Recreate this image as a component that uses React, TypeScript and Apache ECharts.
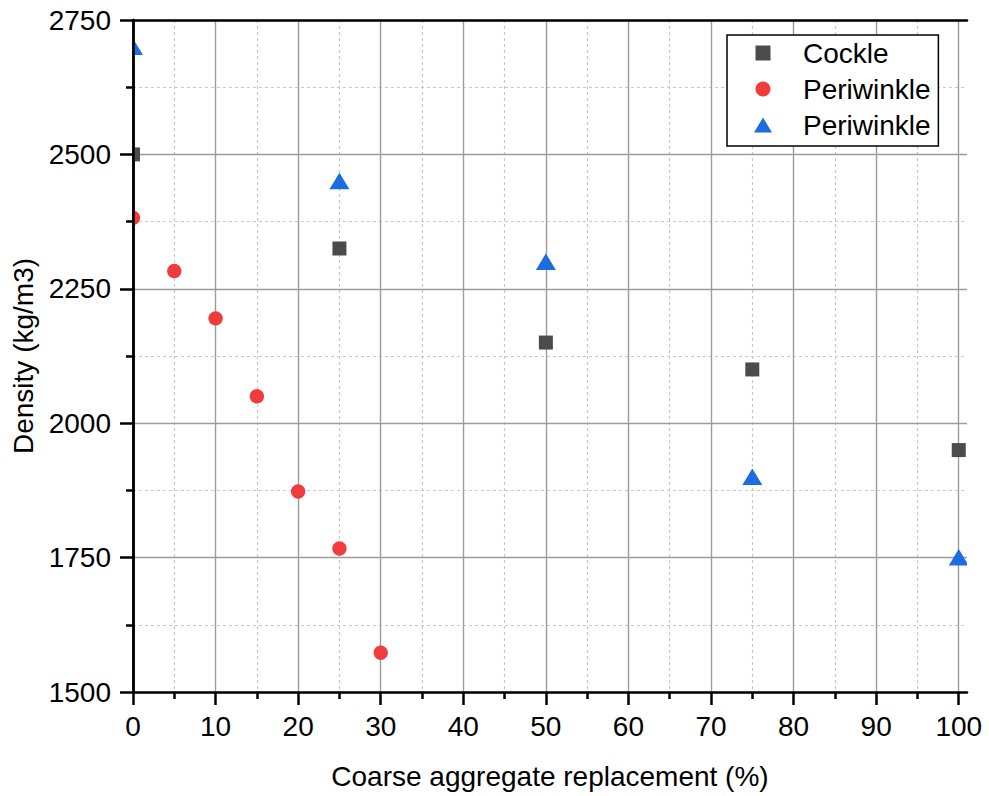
import React, { useEffect, useRef } from 'react';
import * as echarts from 'echarts';

// ---- data ----
const xMajorTicks = [0, 10, 20, 30, 40, 50, 60, 70, 80, 90, 100];
const xMinorTicks = [5, 15, 25, 35, 45, 55, 65, 75, 85, 95];
const cockleX = [0, 25, 50, 75, 100];
const cockleY = [2500, 2325, 2150, 2100, 1950];
const periwinkleX = [0, 5, 10, 15, 20, 25, 30];
const periwinkleY = [2382, 2283, 2195, 2050, 1873, 1767, 1573];
const periwinkle2X = [0, 25, 50, 75, 100];
const periwinkle2Y = [2700, 2450, 2300, 1900, 1750];
const seriesNames = ['Cockle', 'Periwinkle', 'Periwinkle '];

const FONT = "'Liberation Sans', Arial, Helvetica, sans-serif";
const COLORS = ['#4b4b4b', '#f03c3c', '#1c6de0'];

function zip(xs: number[], ys: number[]) {
  return xs.map((x, i) => [x, ys[i]]);
}

function makeRender(kind: 'rect' | 'circle' | 'triangle') {
  return (params: any, api: any) => {
    const p = api.coord([api.value(0), api.value(1)]);
    const fill = api.visual('color');
    if (kind === 'rect') {
      return { type: 'rect', shape: { x: p[0] - 7, y: p[1] - 7, width: 14, height: 14 }, style: { fill } };
    }
    if (kind === 'circle') {
      return { type: 'circle', shape: { cx: p[0], cy: p[1], r: 7.2 }, style: { fill } };
    }
    return {
      type: 'polygon',
      shape: { points: [[p[0], p[1] - 8.5], [p[0] + 10, p[1] + 8], [p[0] - 10, p[1] + 8]] },
      style: { fill },
    };
  };
}

export default function App() {
  const ref = useRef<HTMLDivElement>(null);
  useEffect(() => {
    if (!ref.current) return;
    const chart = echarts.init(ref.current, undefined, { renderer: 'svg' });
    const axisBlack = { color: '#000', width: 2.5 };
    const plain = (v: number) => String(v);
    chart.setOption({
      animation: false,
      backgroundColor: '#fff',
      grid: { left: 133, top: 20, right: 22, bottom: 104, containLabel: false, outerBoundsMode: 'none' },
      legend: {
        orient: 'vertical',
        left: 727,
        top: 35,
        padding: [4, 0, 7, 27],
        itemWidth: 18,
        itemHeight: 15,
        itemGap: 8,
        borderColor: '#000',
        borderWidth: 1.5,
        backgroundColor: '#fff',
        textStyle: { fontSize: 28, lineHeight: 28, color: '#000', fontFamily: FONT, padding: [0, 0, 0, 26] },
        data: [
          { name: seriesNames[0], icon: 'path://M0 0H10V10H0Z' },
          { name: seriesNames[1], icon: 'circle' },
          { name: seriesNames[2], icon: 'path://M6 0L12 10H0Z' },
        ],
      },
      xAxis: [
        {
          type: 'value',
          min: 0,
          max: 101,
          interval: 10,
          position: 'bottom',
          z: 1,
          axisLine: { show: true, lineStyle: axisBlack },
          axisTick: { show: true, length: 13, lineStyle: axisBlack, customValues: xMajorTicks },
          axisLabel: { fontSize: 28, color: '#000', fontFamily: FONT, margin: 20, customValues: xMajorTicks, formatter: plain },
          splitLine: { show: true, lineStyle: { color: '#9c9c9c', width: 1.4 } },
          name: 'Coarse aggregate replacement (%)',
          nameLocation: 'middle',
          nameGap: 70,
          nameTextStyle: { fontSize: 28, color: '#000', fontFamily: FONT },
        },
        {
          type: 'value',
          min: 0,
          max: 101,
          interval: 5,
          position: 'bottom',
          z: 0,
          axisLine: { show: false },
          axisTick: { show: true, length: 7, lineStyle: axisBlack, customValues: xMinorTicks },
          axisLabel: { show: false },
          splitLine: { show: true, lineStyle: { color: '#c8c8c8', width: 1.2, type: [3, 3] } },
        },
        {
          type: 'value',
          min: 0,
          max: 101,
          position: 'top',
          z: 5,
          axisLine: { show: true, lineStyle: axisBlack },
          axisTick: { show: false },
          axisLabel: { show: false },
          splitLine: { show: false },
        },
      ],
      yAxis: [
        {
          type: 'value',
          min: 1500,
          max: 2750,
          interval: 250,
          position: 'left',
          z: 1,
          axisLine: { show: true, lineStyle: axisBlack },
          axisTick: { show: true, length: 13, lineStyle: axisBlack },
          minorTick: { show: true, splitNumber: 2, length: 7, lineStyle: axisBlack },
          axisLabel: { fontSize: 28, color: '#000', fontFamily: FONT, margin: 22, formatter: plain },
          splitLine: { show: true, lineStyle: { color: '#9c9c9c', width: 1.4 } },
          minorSplitLine: { show: true, lineStyle: { color: '#c8c8c8', width: 1.2, type: [3, 3] } },
          name: 'Density (kg/m3)',
          nameLocation: 'middle',
          nameGap: 93,
          nameTextStyle: { fontSize: 28, color: '#000', fontFamily: FONT },
        },
        {
          type: 'value',
          min: 1500,
          max: 2750,
          position: 'right',
          z: 5,
          axisLine: { show: true, lineStyle: axisBlack },
          axisTick: { show: false },
          axisLabel: { show: false },
          splitLine: { show: false },
        },
      ],
      series: [
        {
          type: 'custom',
          name: seriesNames[0],
          clip: true,
          xAxisIndex: 0,
          yAxisIndex: 0,
          itemStyle: { color: COLORS[0] },
          renderItem: makeRender('rect'),
          data: zip(cockleX, cockleY),
          z: 3,
        },
        {
          type: 'custom',
          name: seriesNames[1],
          clip: true,
          xAxisIndex: 0,
          yAxisIndex: 0,
          itemStyle: { color: COLORS[1] },
          renderItem: makeRender('circle'),
          data: zip(periwinkleX, periwinkleY),
          z: 3,
        },
        {
          type: 'custom',
          name: seriesNames[2],
          clip: true,
          xAxisIndex: 0,
          yAxisIndex: 0,
          itemStyle: { color: COLORS[2] },
          renderItem: makeRender('triangle'),
          data: zip(periwinkle2X, periwinkle2Y),
          z: 3,
        },
      ],
    });
    return () => chart.dispose();
  }, []);
  return (
    <div
      ref={ref}
      style={{ position: 'fixed', left: 0, top: 0, width: 989, height: 796, background: '#fff' }}
    />
  );
}
